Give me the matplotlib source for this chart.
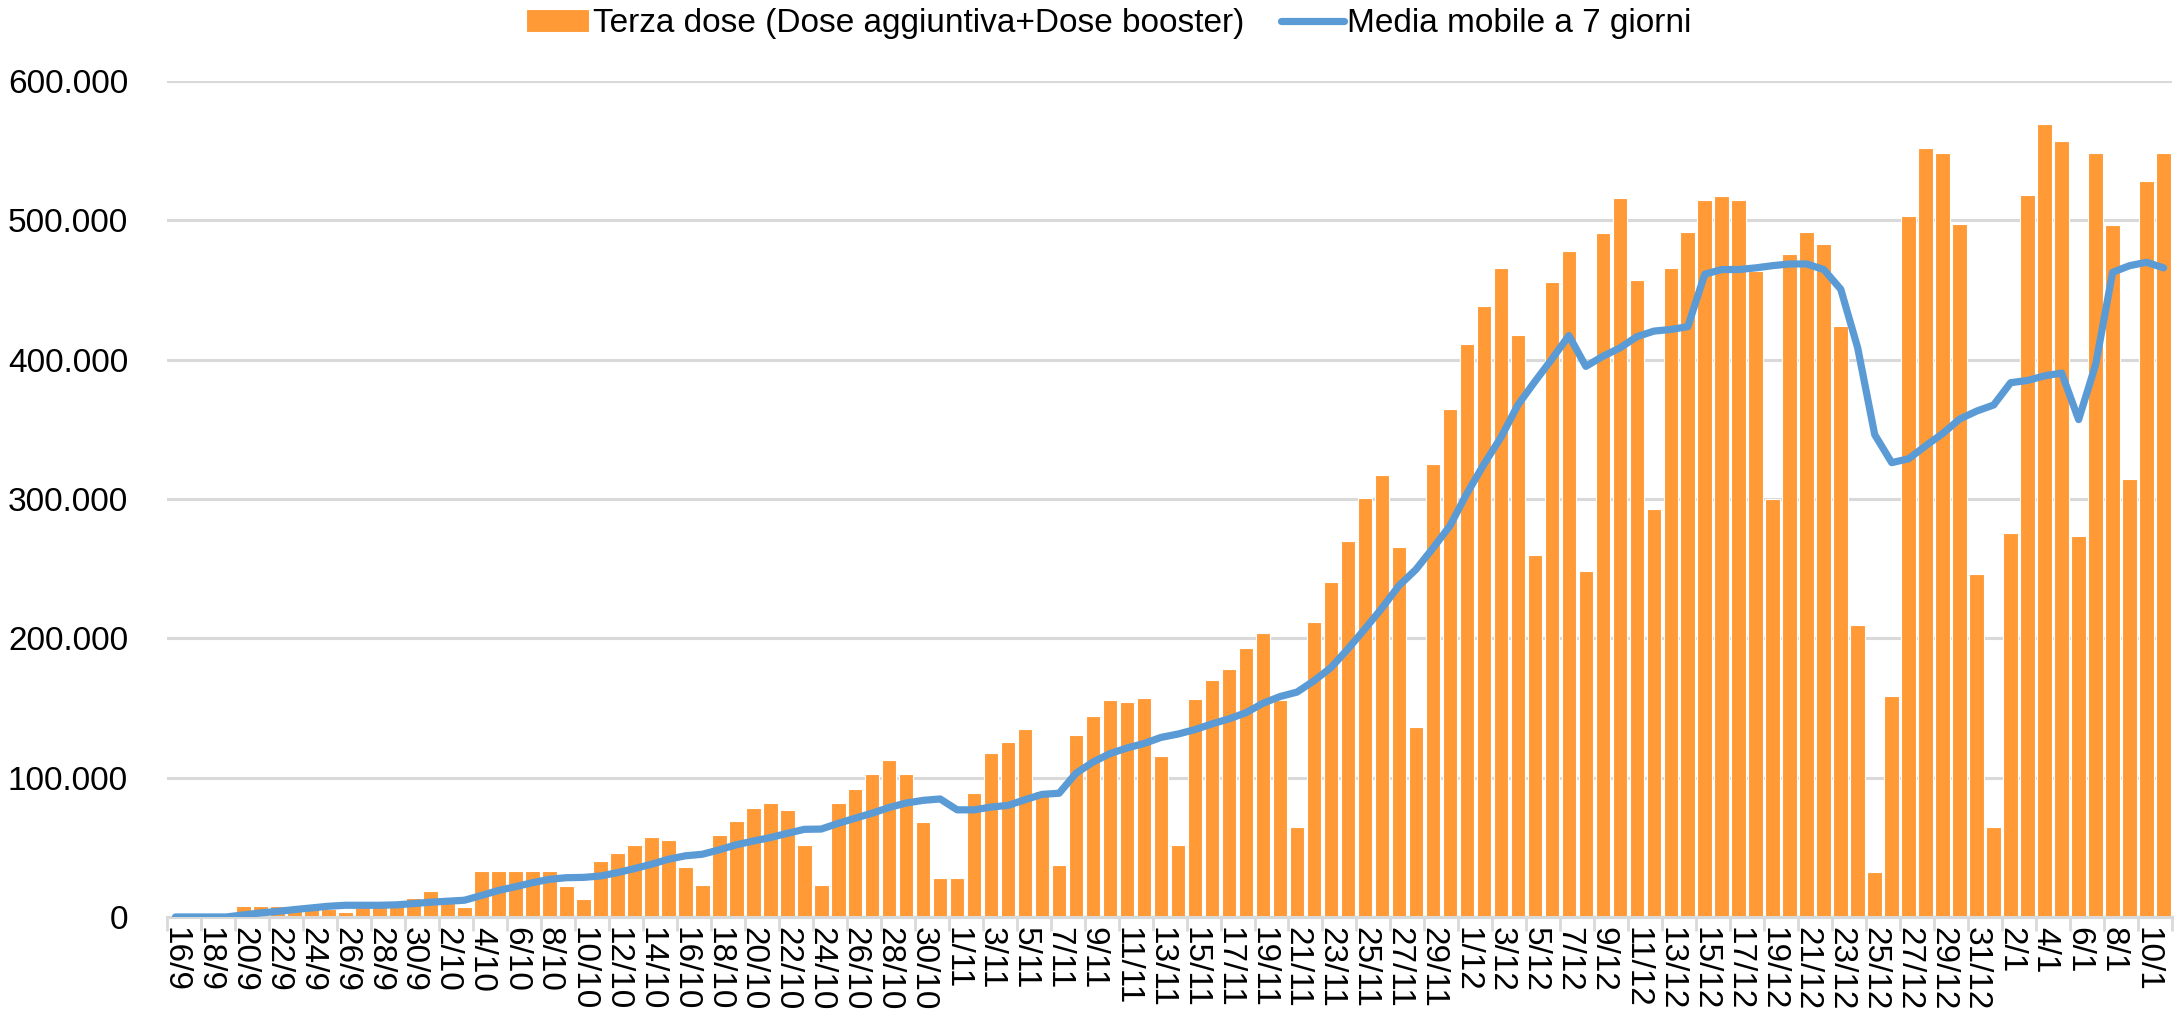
import numpy as np
import pandas as pd
import matplotlib
matplotlib.use("Agg")
import matplotlib.pyplot as plt
from matplotlib.ticker import FuncFormatter

# --- dati (migliaia di dosi) ---
startDate = "2021-09-16"
nDays = 118
days = pd.date_range(startDate, periods=nDays, freq="D")
dayLabels = [f"{d.day}/{d.month}" for d in days]

terzaDose = [
    0, 0, 0, 0, 8.2, 8.2, 8.2, 8.2, 8.0, 6.0,
    3.5, 7.5, 8.0, 8.0, 13.7, 18.3, 10.5, 7.0, 33.3, 33.3,
    33.3, 33.3, 33.3, 21.9, 12.8, 40.2, 46.0, 51.8, 57.6, 55.2,
    35.9, 23.1, 58.6, 69.2, 78.0, 81.6, 76.7, 51.5, 23.0, 81.6,
    91.5, 102.9, 113.0, 102.9, 68.0, 27.7, 27.7, 89.3, 118.0, 125.7,
    135.2, 90.2, 37.0, 130.5, 144.2, 155.4, 154.2, 157.4, 115.3, 51.8,
    156.6, 170.3, 177.9, 192.8, 204.0, 155.4, 64.3, 212.0, 240.6, 269.9,
    300.8, 316.9, 265.5, 136.1, 324.9, 364.3, 411.2, 438.2, 465.5, 417.7,
    259.8, 455.4, 478.3, 248.6, 490.8, 515.7, 457.4, 292.8, 465.9, 491.6,
    514.5, 517.7, 514.5, 463.9, 300.0, 475.9, 491.6, 482.7, 424.5, 209.6,
    32.5, 158.6, 502.8, 551.8, 548.6, 497.6, 246.2, 64.3, 275.9, 518.1,
    569.1, 557.0, 273.5, 548.6, 496.4, 314.5, 528.1, 548.6,
]

mediaMobile = [
    0, 0, 0, 0, 1.5, 2.9, 4.0, 5.3, 6.5, 7.7,
    8.4, 8.4, 8.4, 8.7, 9.6, 10.6, 11.3, 12.0, 15.4, 19.0,
    21.7, 24.6, 27.0, 28.2, 28.4, 29.4, 31.8, 34.7, 37.8, 41.4,
    43.9, 45.0, 48.2, 51.8, 54.5, 57.0, 60.0, 62.9, 63.1, 67.2,
    70.9, 74.5, 78.6, 81.8, 83.7, 84.7, 76.9, 76.9, 78.9, 80.1,
    84.2, 88.0, 88.8, 103.2, 111.2, 117.3, 121.3, 124.5, 128.9, 131.3,
    134.5, 138.6, 142.2, 146.6, 153.4, 158.2, 161.4, 169.5, 179.0, 192.4,
    206.8, 221.7, 237.8, 249.4, 264.7, 280.7, 304.0, 324.9, 344.2, 367.5,
    384.3, 400.4, 417.3, 395.2, 402.4, 408.4, 416.5, 420.5, 421.7, 423.7,
    461.4, 464.7, 464.7, 465.9, 467.5, 468.7, 468.7, 464.7, 450.6, 408.4,
    346.2, 326.1, 328.9, 338.2, 347.0, 357.4, 363.1, 367.5, 383.5, 385.1,
    388.4, 390.4, 357.0, 396.4, 462.7, 467.5, 469.9, 465.9,
]

barColor = "#FF9A36"
lineColor = "#5B9BD5"
gridColor = "#D9D9D9"

plt.rcParams["font.family"] = ["Liberation Sans", "DejaVu Sans"]
fontSize = 24

fig = plt.figure(figsize=(21.83, 10.31), dpi=100)
ax = fig.add_axes([0.0765, 0.1106, 0.9185, 0.8108])

x = np.arange(nDays)
bars = ax.bar(x, np.array(terzaDose) * 1000, width=0.86, color=barColor,
              edgecolor="white", linewidth=0.8, zorder=2,
              label="Terza dose (Dose aggiuntiva+Dose booster)")
line, = ax.plot(x, np.array(mediaMobile) * 1000, color=lineColor, lw=5.2,
                solid_capstyle="round", solid_joinstyle="round", zorder=3,
                label="Media mobile a 7 giorni")

# assi
ax.set_xlim(-0.5, nDays - 0.5)
ax.set_ylim(0, 600000)
ax.set_yticks(np.arange(0, 600001, 100000))
ax.yaxis.set_major_formatter(FuncFormatter(lambda v, p: f"{int(v):,}".replace(",", ".")))
ax.yaxis.grid(True, color=gridColor, lw=2.2, zorder=0)
ax.set_axisbelow(True)
for s in ["top", "right", "left"]:
    ax.spines[s].set_visible(False)
ax.spines["bottom"].set_color(gridColor)
ax.spines["bottom"].set_linewidth(2.2)
ax.tick_params(axis="y", length=0, pad=28, labelsize=fontSize)

# tacche ogni due giorni, etichette sul primo giorno della coppia
ax.set_xticks(np.arange(-0.5, nDays, 2))
ax.set_xticklabels([])
ax.tick_params(axis="x", which="major", length=10, width=2, color=gridColor)
ax.set_xticks(x[::2], minor=True)
ax.set_xticklabels(dayLabels[::2], minor=True, rotation=270, fontsize=fontSize)
ax.tick_params(axis="x", which="minor", length=0, pad=7)

fig.legend(handles=[bars, line], loc="center", bbox_to_anchor=(0.508, 0.977),
           ncol=2, frameon=False, fontsize=fontSize, handlelength=1.9,
           handletextpad=0.1, columnspacing=1.1, handleheight=0.7)

fig.savefig("out.png", dpi=100)
